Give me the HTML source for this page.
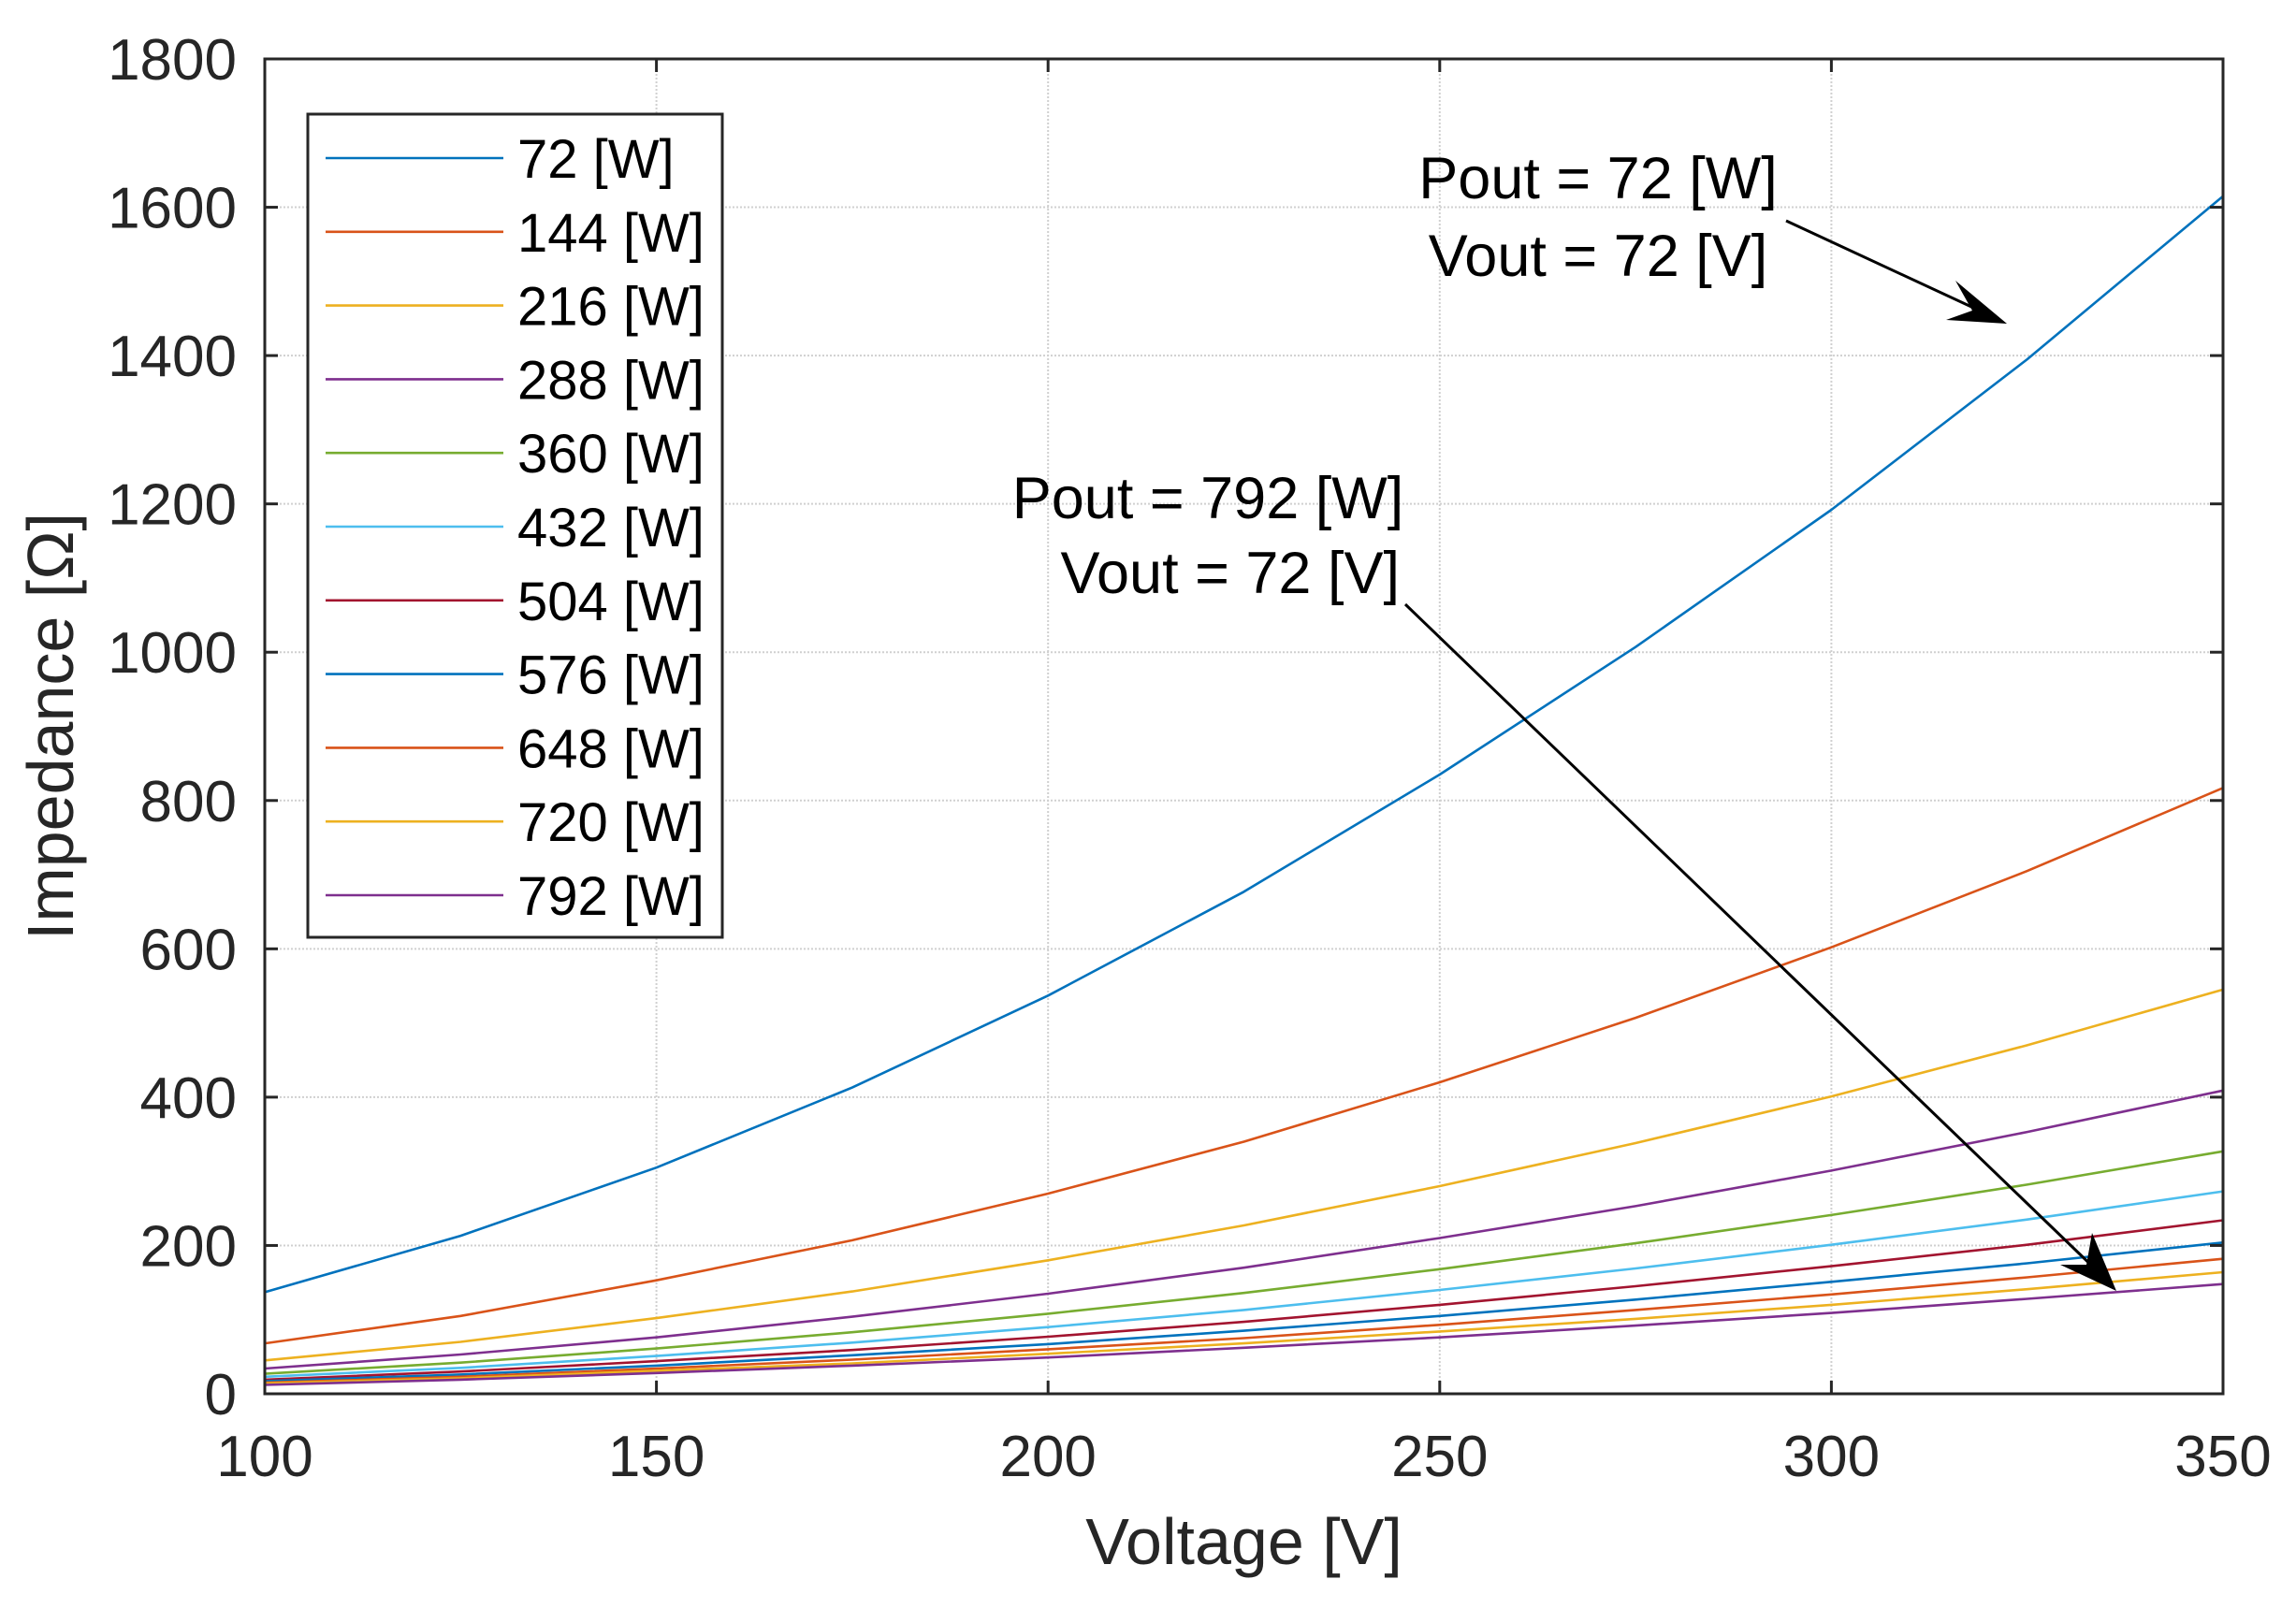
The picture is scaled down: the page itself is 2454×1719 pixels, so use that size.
<!DOCTYPE html>
<html><head><meta charset="utf-8"><style>
html,body{margin:0;padding:0;background:#fff;}
svg{display:block;font-family:"Liberation Sans",Arial,sans-serif;}
</style></head><body>
<svg id="chart" width="2454" height="1719" viewBox="0 0 2454 1719" xmlns="http://www.w3.org/2000/svg">
<g id="grid"></g>
<g id="series"></g>
<g id="axes"></g>
<g id="legend"></g>
<g>
<text x="1708" y="212" font-size="63" text-anchor="middle" fill="#000">Pout = 72 [W]</text>
<text x="1708" y="295" font-size="63" text-anchor="middle" fill="#000">Vout = 72 [V]</text>
<line x1="1909" y1="236" x2="2120" y2="334" stroke="#000" stroke-width="3"/>
<polygon points="2145,346 2080,342 2108,332 2090,300" fill="#000"/>
</g>
<g>
<text x="1291" y="554" font-size="63" text-anchor="middle" fill="#000">Pout = 792 [W]</text>
<text x="1496" y="634" font-size="63" text-anchor="end" fill="#000">Vout = 72 [V]</text>
<line x1="1502" y1="646" x2="2245" y2="1362" stroke="#000" stroke-width="3"/>
<polygon points="2262,1380 2202,1352 2230,1352 2236,1318" fill="#000"/>
</g>
</svg>
<script>
const voltages = [100,125,150,175,200,225,250,275,300,325,350];
const powers = ["72","144","216","288","360","432","504","576","648","720","792"];
const s72  = [137,213,305,413,537,677,835,1007,1192,1395,1615];
const s144 = [68,105,153,207,270,340,420,507,602,705,817];
const s216 = [45,70,102,138,180,227,280,338,401,470,545];
const s288 = [34,53,76,104,135,170,210,253,301,353,409];
const s360 = [27,42,61,83,108,136,168,203,241,282,327];
const s432 = [23,35,51,69,90,113,140,169,201,235,273];
const s504 = [19,30,44,59,77,97,120,145,172,201,234];
const s576 = [17,26,38,52,67,85,105,127,151,176,204];
const s648 = [15,23,34,46,60,75,93,113,134,157,182];
const s720 = [14,21,31,41,54,68,84,101,120,141,164];
const s792 = [12,19,28,38,49,62,76,92,109,128,148];
const xTicks = [100,150,200,250,300,350];
const yTicks = [0,200,400,600,800,1000,1200,1400,1600,1800];
const allSeries = [s72,s144,s216,s288,s360,s432,s504,s576,s648,s720,s792];
const colors = ["#0072BD","#D95319","#EDB120","#7E2F8E","#77AC30","#4DBEEE","#A2142F","#0072BD","#D95319","#EDB120","#7E2F8E"];

const L=283,R=2376,T=63,B=1490;
const xs=v=>L+(v-100)/(350-100)*(R-L);
const ys=v=>B-(v-0)/(1800-0)*(B-T);
const NS="http://www.w3.org/2000/svg";
function mk(tag,attrs,parent){const e=document.createElementNS(NS,tag);for(const k in attrs)e.setAttribute(k,attrs[k]);parent.appendChild(e);return e;}
const grid=document.getElementById('grid'),axes=document.getElementById('axes'),ser=document.getElementById('series'),leg=document.getElementById('legend');

xTicks.forEach(t=>{
  const x=xs(t);
  const g=mk('line',{x1:x,x2:x,y1:T,y2:B,stroke:'#d0d0d0','stroke-width':2,'stroke-dasharray':'2,2'},grid);
  
  
  const tk=mk('line',{x1:x,x2:x,y1:B,y2:B-14,stroke:'#262626','stroke-width':3},axes);
  
  
  const tk2=mk('line',{x1:x,x2:x,y1:T,y2:T+14,stroke:'#262626','stroke-width':3},axes);
  
  
  const lb=mk('text',{x:x,y:B+88,'font-size':62,'text-anchor':'middle',fill:'#262626'},axes);
  lb.textContent=t;
  
  
});
yTicks.forEach(t=>{
  const y=ys(t);
  const g=mk('line',{x1:L,x2:R,y1:y,y2:y,stroke:'#d0d0d0','stroke-width':2,'stroke-dasharray':'2,2'},grid);
  
  
  const tk=mk('line',{x1:L,x2:L+14,y1:y,y2:y,stroke:'#262626','stroke-width':3},axes);
  
  
  const tk2=mk('line',{x1:R,x2:R-14,y1:y,y2:y,stroke:'#262626','stroke-width':3},axes);
  
  
  const lb=mk('text',{x:L-30,y:y+22,'font-size':62,'text-anchor':'end',fill:'#262626'},axes);
  lb.textContent=t;
  
  
});
const box=mk('rect',{x:L,y:T,width:R-L,height:B-T,fill:'none',stroke:'#262626','stroke-width':3},axes);


const xl=mk('text',{x:(L+R)/2,y:1672,'font-size':70,'text-anchor':'middle',fill:'#262626'},axes);
xl.textContent='Voltage [V]';


const yl=mk('text',{x:0,y:0,'font-size':70,'text-anchor':'middle',fill:'#262626',transform:'translate(78,'+((T+B)/2)+') rotate(-90)'},axes);
yl.textContent='Impedance [Ω]';



allSeries.forEach((s,i)=>{
  const pts=s.map((v,j)=>xs(voltages[j]).toFixed(1)+','+ys(v).toFixed(1)).join(' ');
  const pl=mk('polyline',{points:pts,fill:'none',stroke:colors[i],'stroke-width':2.6,'stroke-linejoin':'round'},ser);
  
  
});

const lb=mk('rect',{x:329,y:122,width:443,height:880,fill:'#fff',stroke:'#262626','stroke-width':3},leg);


powers.forEach((p,i)=>{
  const y=169+i*78.8;
  const ln=mk('line',{x1:348,x2:538,y1:y,y2:y,stroke:colors[i],'stroke-width':2.6},leg);
  
  
  const tx=mk('text',{x:553,y:y+21,'font-size':58,fill:'#000'},leg);
  tx.textContent=p+' [W]';
  
  
});
</script>
</body></html>
